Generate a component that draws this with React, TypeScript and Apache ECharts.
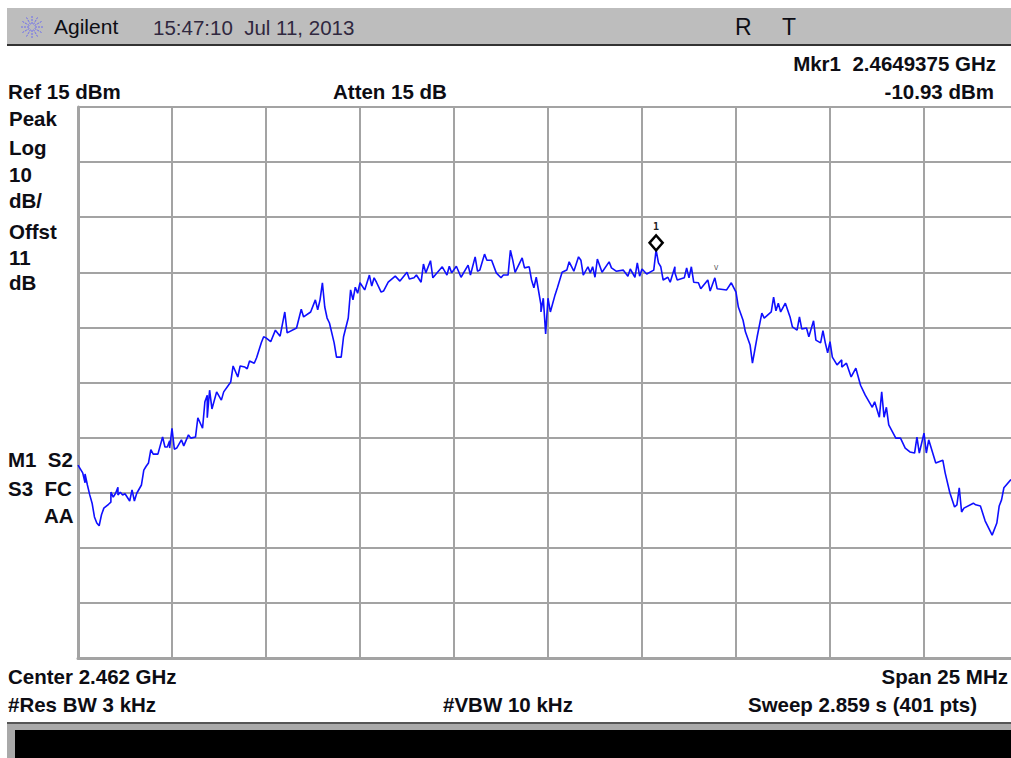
import React, { useEffect, useRef } from "react";
import * as echarts from "echarts";

// [trace point (0-400), amplitude dBm]
const traceLeft: [number, number][] = [
  [0,-50.0],[0,-50.0],[2,-51.4],[3,-53.2],[3,-51.6],[4,-53.6],[5,-55.4],[6,-56.9],[7,-59.4],[8,-60.5],[9,-61.0],[10,-59.0],[11,-57.8],[13,-57.1],[14,-56.7],[14,-54.9],[15,-55.8],[16,-55.1],[17,-54.0],[17,-55.4],[18,-54.9],[19,-55.4],[20,-55.2],[22,-56.5],[23,-54.5],[24,-56.5],[25,-55.1],[27,-53.6],[28,-50.9],[29,-50.2],[30,-49.6],[31,-47.2],[32,-48.0],[34,-48.0],[36,-44.9],[37,-46.7],[38,-46.7],[39,-45.6],[39,-46.9],[40,-43.3],[41,-47.1],[42,-46.9],[44,-45.4],[45,-46.5],[47,-44.5],[48,-45.1],[50,-44.9],[51,-41.4],[53,-43.3],[54,-38.5],[55,-37.3],[55,-41.4],[56,-36.4],[57,-39.8],[59,-36.7],[61,-38.2],[62,-36.7],[65,-34.9],[66,-32.0],[68,-34.0],[69,-32.0],[71,-32.2],[72,-32.5],[73,-31.1],[75,-31.5],[76,-30.5],[78,-27.8],[79,-26.7],[80,-26.9],[82,-27.6],[84,-25.5],[86,-26.6],[88,-22.2],[89,-26.0],[93,-25.1],[95,-21.7],[96,-23.1],[99,-22.2],[101,-20.0],[102,-21.8],[103,-20.0],[104,-16.9],[105,-21.3],[106,-23.3],[107,-24.2],[109,-27.8],[110,-30.4],[112,-30.4],[113,-26.7],[115,-23.3],[116,-18.2],[117,-20.0],[118,-17.7],[119,-18.8],[120,-16.9],[122,-18.2],[124,-15.5],[125,-17.5],[126,-16.0],[127,-16.8],[129,-18.6],[130,-18.4],[132,-16.8],
];
const traceCenter: [number, number][] = [
  [135,-15.7],[137,-16.6],[140,-15.0],[141,-16.2],[143,-16.0],[144,-15.5],[146,-16.8],[147,-13.5],[148,-15.1],[150,-12.9],[151,-16.0],[155,-14.0],[157,-15.5],[158,-13.9],[159,-15.1],[161,-13.9],[163,-15.9],[166,-13.7],[167,-15.5],[169,-12.2],[170,-14.8],[171,-14.6],[173,-11.7],[174,-12.8],[176,-12.8],[178,-15.1],[180,-16.0],[181,-15.5],[183,-15.5],[184,-11.0],[185,-12.8],[186,-15.0],[189,-12.4],[190,-14.2],[192,-14.0],[193,-16.4],[194,-17.8],[195,-15.9],[197,-20.9],[197,-22.2],[198,-19.7],[199,-26.2],[200,-19.7],[201,-22.2],[203,-19.1],[204,-17.8],[206,-15.0],[208,-14.6],[209,-13.1],[211,-14.8],[213,-12.2],[214,-12.8],[215,-15.5],[217,-14.0],[218,-15.1],[219,-14.0],[220,-15.9],[221,-12.6],[223,-15.0],[226,-13.1],[227,-14.2],[229,-14.8],[232,-14.6],[234,-15.7],[235,-14.4],[237,-15.9],[238,-13.3],[239,-15.7],[240,-14.4],[242,-15.3],[245,-14.6],[246,-10.93],[247,-13.3],[248,-14.0],[249,-16.4],[251,-15.9],[252,-16.8],[254,-14.0],[254,-15.1],[255,-16.4],[258,-16.0],[259,-14.2],[260,-16.0],[261,-14.0],[262,-16.8],[264,-16.9],
];
const traceRight: [number, number][] = [
  [265,-18.0],[268,-16.4],[269,-18.4],[271,-16.0],[272,-18.0],[276,-18.2],[278,-16.9],[280,-18.6],[281,-21.3],[283,-23.7],[284,-25.8],[286,-28.2],[287,-31.5],[288,-29.1],[289,-26.7],[291,-22.4],[292,-23.3],[295,-22.2],[296,-19.5],[297,-22.0],[298,-20.6],[299,-22.2],[301,-20.6],[303,-23.1],[304,-24.9],[306,-25.5],[307,-23.1],[308,-25.3],[310,-25.1],[311,-26.7],[313,-23.8],[314,-27.3],[316,-27.8],[317,-25.6],[318,-27.8],[319,-29.6],[320,-27.6],[321,-30.4],[323,-31.8],[325,-30.9],[325,-32.2],[327,-31.5],[329,-34.0],[331,-32.4],[333,-35.5],[335,-37.3],[338,-39.5],[339,-38.5],[341,-41.3],[342,-36.7],[343,-41.3],[344,-39.5],[345,-42.7],[348,-45.1],[350,-45.1],[352,-46.9],[354,-47.6],[356,-47.8],[357,-44.9],[358,-47.8],[360,-44.2],[361,-47.8],[362,-45.4],[365,-49.6],[368,-49.1],[369,-51.4],[371,-55.0],[373,-57.6],[374,-57.2],[375,-54.1],[376,-58.5],[377,-57.8],[381,-56.9],[382,-57.2],[384,-57.4],[386,-60.1],[389,-62.7],[391,-60.5],[392,-57.4],[393,-56.3],[394,-54.1],[397,-52.6],
];
const marker1: [number, number] = [246, -10.93];
const marker2: [number, number] = [271.5, -14.2];
const gridLevels = [15, 5, -5, -15, -25, -35, -45, -55, -65, -75];
const sideLabels = ["Peak", "Log", "10", "dB/", "Offst", "11", "dB"];
const annotationLabels = ["M1  S2", "S3  FC"];

const BOLD = "bold 20.5px 'Liberation Sans', Arial, sans-serif";
const REG = "20.5px 'Liberation Sans', Arial, sans-serif";
const INK = "#0d0d14";

const txt = (text: string, x: number, y: number, font = BOLD, textAlign = "left", fill = INK) => ({
  type: "text",
  x,
  y: y - 1,
  silent: true,
  style: { text, x: 0, y: 0, font, fill, textAlign, textVerticalAlign: "middle" },
});

const rays = [0, 30, 60, 90, 120, 150, 180, 210, 240, 270, 300, 330];

export default function App() {
  const ref = useRef<HTMLDivElement>(null);
  useEffect(() => {
    document.body.style.margin = "0";
    document.body.style.overflow = "hidden";
    const chart = echarts.init(ref.current!, null, { renderer: "svg" });
    const sideY = [119, 148, 175, 201, 232, 258, 283];
    chart.setOption({
      animation: false,
      backgroundColor: "#ffffff",
      grid: { left: 78, top: 107, width: 940, height: 551 },
      xAxis: {
        type: "value",
        min: 0,
        max: 400,
        interval: 40,
        axisLine: { show: true, onZero: false, lineStyle: { color: "#a3a3a3", width: 3 } },
        axisTick: { show: false },
        axisLabel: { show: false },
        splitLine: { show: true, lineStyle: { color: "#a3a3a3", width: 2 } },
      },
      yAxis: {
        type: "value",
        min: -85,
        max: 15,
        axisLine: { show: true, onZero: false, lineStyle: { color: "#a3a3a3", width: 3 } },
        axisTick: { show: false },
        axisLabel: { show: false },
        splitLine: { show: false },
      },
      series: [
        {
          type: "line",
          data: [...traceLeft, ...traceCenter, ...traceRight],
          showSymbol: false,
          symbol: "none",
          lineStyle: { color: "#0f0fff", width: 1.6 },
          z: 5,
          silent: true,
          markLine: {
            silent: true,
            symbol: "none",
            label: { show: false },
            lineStyle: { color: "#a3a3a3", width: 2, type: "solid" },
            data: gridLevels.map((yAxis) => ({ yAxis })),
          },
        },
        {
          type: "scatter",
          data: [marker1],
          symbol: "diamond",
          symbolSize: [13, 15],
          symbolOffset: [0, -7],
          itemStyle: { color: "#ffffff", borderColor: "#000000", borderWidth: 2.6, opacity: 1 },
          label: {
            show: true,
            formatter: "1",
            position: "top",
            distance: 2,
            color: "#222222",
            fontSize: 10,
            fontWeight: "bold",
            fontFamily: "'DejaVu Sans Mono', monospace",
          },
          z: 6,
          silent: true,
        },
        {
          type: "scatter",
          data: [marker2],
          symbol: "circle",
          symbolSize: 1,
          itemStyle: { color: "rgba(0,0,0,0)" },
          label: {
            show: true,
            formatter: "v",
            position: "inside",
            color: "#333333",
            fontSize: 8,
            fontFamily: "'DejaVu Sans', sans-serif",
          },
          z: 6,
          silent: true,
        },
      ],
      graphic: [
        { type: "rect", silent: true, shape: { x: 7, y: 8, width: 1004, height: 36 }, style: { fill: "#bdbdbd" } },
        { type: "rect", silent: true, shape: { x: 7, y: 44, width: 1004, height: 2 }, style: { fill: "#333333" } },
        ...rays.map((a) => {
          const c = Math.cos((a * Math.PI) / 180);
          const s = Math.sin((a * Math.PI) / 180);
          return {
            type: "line",
            silent: true,
            shape: { x1: 32 + 3 * c, y1: 27 + 3 * s, x2: 32 + 12 * c, y2: 27 + 12 * s },
            style: { stroke: "#6a6af0", lineWidth: 1, lineDash: [2, 1] },
          };
        }),
        txt("Agilent", 54, 27, "21px 'Liberation Sans', Arial, sans-serif"),
        txt("15:47:10  Jul 11, 2013", 153, 28, REG, "left", "#30283f"),
        txt("R", 735, 28, "23px 'Liberation Sans', Arial, sans-serif"),
        txt("T", 782, 28, "23px 'Liberation Sans', Arial, sans-serif"),
        txt("Mkr1  2.4649375 GHz", 996, 64, BOLD, "right"),
        txt("Ref 15 dBm", 8, 92),
        txt("Atten 15 dB", 333, 92),
        txt("-10.93 dBm", 994, 92, BOLD, "right"),
        ...sideLabels.map((s, i) => txt(s, 9, sideY[i])),
        txt(annotationLabels[0], 8, 460),
        txt(annotationLabels[1], 8, 489),
        txt("AA", 44, 516),
        txt("Center 2.462 GHz", 8, 677),
        txt("Span 25 MHz", 1008, 677, BOLD, "right"),
        txt("#Res BW 3 kHz", 8, 705),
        txt("#VBW 10 kHz", 443, 705),
        txt("Sweep 2.859 s (401 pts)", 977, 705, BOLD, "right"),
        { type: "rect", silent: true, shape: { x: 7, y: 722, width: 1004, height: 36 }, style: { fill: "#a9a9a9" } },
        { type: "rect", silent: true, shape: { x: 7, y: 722, width: 1004, height: 2 }, style: { fill: "#555555" } },
        { type: "rect", silent: true, shape: { x: 15, y: 730, width: 996, height: 28 }, style: { fill: "#000000" } },
      ],
    });
    return () => chart.dispose();
  }, []);
  return (
    <div style={{ width: 1011, height: 758, overflow: "hidden" }}>
      <div ref={ref} style={{ width: 1030, height: 758 }} />
    </div>
  );
}
